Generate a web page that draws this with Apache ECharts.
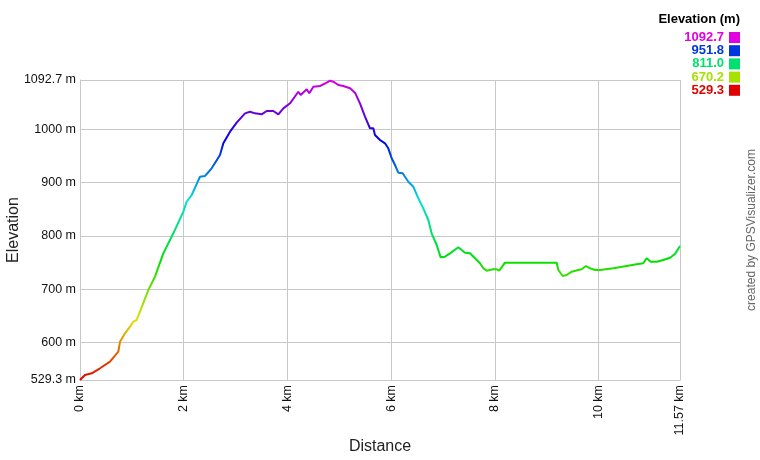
<!DOCTYPE html>
<html>
<head>
<meta charset="utf-8">
<script src="https://cdn.jsdelivr.net/npm/echarts@6/dist/echarts.min.js"></script>
<style>
html,body{margin:0;padding:0;background:#fff;}
#chart{width:760px;height:460px;}
</style>
</head>
<body>
<div id="chart"></div>
<script>
// ---- data ----
var distanceKm = [0,0.096,0.225,0.386,0.578,0.739,0.771,0.868,0.964,1.028,1.093,1.157,1.318,1.446,1.607,1.8,1.993,2.057,2.154,2.314,2.41,2.539,2.7,2.764,2.893,3.021,3.182,3.278,3.375,3.503,3.6,3.728,3.825,3.921,4.05,4.21,4.256,4.371,4.422,4.5,4.628,4.757,4.821,4.885,4.917,4.981,5.078,5.207,5.303,5.399,5.496,5.592,5.656,5.688,5.785,5.881,5.945,6.01,6.074,6.138,6.222,6.331,6.427,6.524,6.62,6.717,6.781,6.878,6.955,7.038,7.135,7.295,7.424,7.52,7.617,7.713,7.777,7.842,7.97,8.035,8.085,8.195,9.192,9.224,9.308,9.385,9.481,9.609,9.674,9.757,9.834,9.931,10.027,10.284,10.541,10.734,10.862,10.927,11.004,11.12,11.248,11.377,11.473,11.57];
var elevationM = [529.3,538.7,541.9,551.3,563.7,582.4,601.2,617,629.4,638.8,642,657.6,698.3,723.3,767.2,804.8,845.4,864.1,876.7,911.1,912.4,926.8,951.9,973.8,995.6,1012.6,1030.1,1033.2,1030.1,1028.3,1034.5,1034.5,1028.3,1039.5,1048.9,1070.7,1064.5,1075.2,1067.7,1080.2,1081.4,1087.6,1091.4,1089.5,1092.7,1083.3,1081.4,1077.1,1068.9,1048.9,1023.8,1002,1002,989.4,980,973.8,964.4,945.7,933.1,918.6,917.5,901.7,892.3,870.5,851.7,829.8,804.8,782.8,759.7,760.9,767.2,778.5,768.4,767.2,757.9,748.5,739.1,734.6,737.2,737.2,734.6,749.6,749.6,735.9,724.6,726.5,732.7,735.9,737.2,743.4,739.1,735.9,735.9,739.1,743.4,746.6,748.5,757.9,751.5,751.5,754.7,759,765.9,780.9];
var xTicks = [0,2,4,6,8,10,11.57];
var yTicks = [529.3,600,700,800,900,1000,1092.7];
var legendValues = [1092.7,951.8,811.0,670.2,529.3];
var legendTitle = 'Elevation (m)';
var credit = 'created by GPSVisualizer.com';

var yMin = 529.3, yMax = 1092.7;

function hueColor(h){
  var v = 224;
  var sector = h/60, i = Math.floor(sector), f = sector - i;
  var p = 0, q = Math.round(v*(1-f)), t = Math.round(v*f);
  var rgb;
  switch(((i%6)+6)%6){
    case 0: rgb=[v,t,p];break;
    case 1: rgb=[q,v,p];break;
    case 2: rgb=[p,v,t];break;
    case 3: rgb=[p,q,v];break;
    case 4: rgb=[t,p,v];break;
    default: rgb=[v,p,q];
  }
  return 'rgb('+rgb.join(',')+')';
}
function elevColor(m){ return hueColor((m-yMin)/(yMax-yMin)*300); }

var stops = [];
for (var h=0; h<=300; h+=30) stops.push(hueColor(h));

var data = distanceKm.map(function(d,i){return [d, elevationM[i]];});

var FONT = '"Liberation Sans", Arial, sans-serif';
var graphics = [];
graphics.push({type:'text', x:740, y:13, style:{text:legendTitle, align:'right', verticalAlign:'top', font:'bold 13px '+FONT, fill:'#000'}});
legendValues.forEach(function(v,i){
  var y = 31 + i*13.2;
  graphics.push({type:'text', x:724, y:y, style:{text:v.toFixed(1), align:'right', verticalAlign:'top', font:'bold 13px '+FONT, fill:elevColor(v)}});
  graphics.push({type:'rect', shape:{x:729, y:y+1, width:11, height:11}, style:{fill:elevColor(v)}});
});
graphics.push({type:'text', x:752, y:230, rotation:Math.PI/2, style:{text:credit, align:'center', verticalAlign:'middle', font:'12px '+FONT, fill:'#666'}});

var chart = echarts.init(document.getElementById('chart'), null, {renderer:'canvas'});
chart.setOption({
  animation:false,
  backgroundColor:'#fff',
  grid:{left:80, right:80, top:80, bottom:80, containLabel:false, outerBoundsMode:'none'},
  textStyle:{fontFamily:FONT},
  xAxis:{
    type:'value', min:0, max:11.57, interval:2,
    name:'Distance', nameLocation:'middle', nameGap:59, nameMoveOverlap:false,
    nameTextStyle:{fontSize:16, color:'#222'},
    axisLine:{show:true, lineStyle:{color:'#c8c8c8'}},
    axisTick:{show:false, customValues:xTicks},
    axisLabel:{customValues:xTicks, rotate:90, margin:5, fontSize:12.5, color:'#111',
      formatter:function(v){return (Math.round(v*100)/100)+' km';}},
    splitLine:{show:true, lineStyle:{color:'#c8c8c8', width:1}}
  },
  yAxis:{
    type:'value', min:yMin, max:yMax,
    name:'Elevation', nameLocation:'middle', nameGap:58, nameRotate:90, nameMoveOverlap:false,
    nameTextStyle:{fontSize:16, color:'#222'},
    axisLine:{show:true, lineStyle:{color:'#c8c8c8'}},
    axisTick:{show:false, customValues:yTicks},
    axisLabel:{customValues:yTicks, margin:4, fontSize:12.5, color:'#111',
      formatter:function(v){return v+' m';}},
    splitLine:{show:true, lineStyle:{color:'#c8c8c8', width:1}}
  },
  visualMap:{show:false, type:'continuous', dimension:1, min:yMin, max:yMax, inRange:{color:stops}},
  series:[{type:'line', data:data, showSymbol:false, symbol:'none', lineStyle:{width:2}, silent:true}],
  graphic:graphics
});
</script>
</body>
</html>
